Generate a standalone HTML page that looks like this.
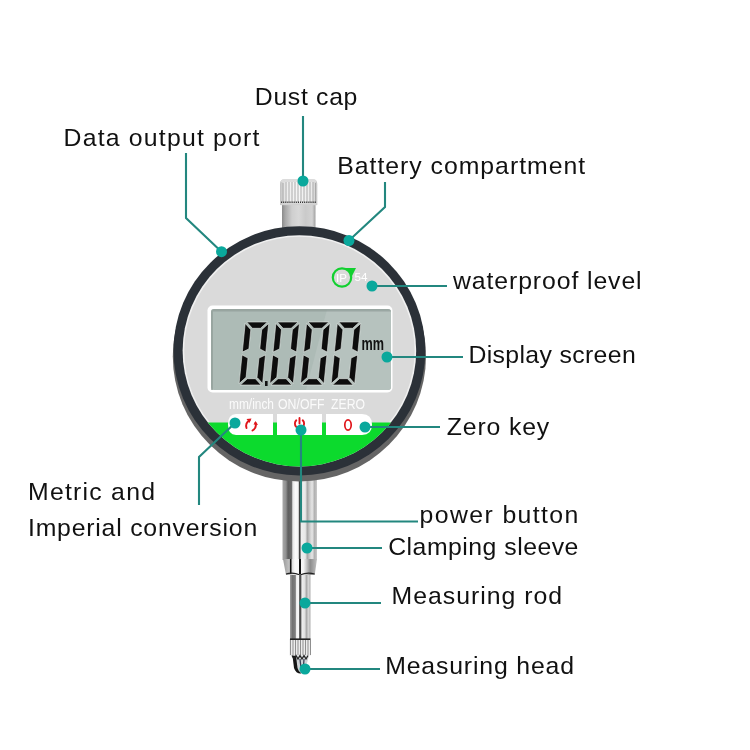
<!DOCTYPE html>
<html><head><meta charset="utf-8">
<style>
html,body{margin:0;padding:0;background:#fff;}
body{width:750px;height:750px;overflow:hidden;position:relative;}
svg{position:absolute;left:0;top:0;will-change:transform;}
.t{font-family:"Liberation Sans",sans-serif;font-size:24.8px;fill:#111;}
</style></head><body>
<svg width="750" height="750" viewBox="0 0 750 750">
<defs>
  <linearGradient id="metal" x1="0" x2="1" y1="0" y2="0">
    <stop offset="0" stop-color="#9a9a9a"/>
    <stop offset="0.15" stop-color="#cfcfcf"/>
    <stop offset="0.35" stop-color="#f2f2f2"/>
    <stop offset="0.55" stop-color="#bdbdbd"/>
    <stop offset="0.75" stop-color="#e8e8e8"/>
    <stop offset="1" stop-color="#a0a0a0"/>
  </linearGradient>
  <linearGradient id="stem" x1="0" x2="1" y1="0" y2="0">
    <stop offset="0" stop-color="#8a8a8a"/>
    <stop offset="0.1" stop-color="#a8a8a8"/>
    <stop offset="0.3" stop-color="#cfcfcf"/>
    <stop offset="0.5" stop-color="#d8d8d8"/>
    <stop offset="0.7" stop-color="#cacaca"/>
    <stop offset="0.9" stop-color="#d2d2d2"/>
    <stop offset="1" stop-color="#a0a0a0"/>
  </linearGradient>
  <linearGradient id="cap" x1="0" x2="1" y1="0" y2="0">
    <stop offset="0" stop-color="#c0c0c0"/>
    <stop offset="0.15" stop-color="#ededed"/>
    <stop offset="0.5" stop-color="#f6f6f6"/>
    <stop offset="0.85" stop-color="#ebebeb"/>
    <stop offset="1" stop-color="#c4c4c4"/>
  </linearGradient>
  <linearGradient id="sleeve" x1="0" x2="1" y1="0" y2="0">
    <stop offset="0" stop-color="#a8a8a8"/>
    <stop offset="0.1" stop-color="#909090"/>
    <stop offset="0.16" stop-color="#5e5e5e"/>
    <stop offset="0.26" stop-color="#6a6a6a"/>
    <stop offset="0.3" stop-color="#e6e6e6"/>
    <stop offset="0.38" stop-color="#fbfbfb"/>
    <stop offset="0.46" stop-color="#f2f2f2"/>
    <stop offset="0.48" stop-color="#3a3a3a"/>
    <stop offset="0.51" stop-color="#4a4a4a"/>
    <stop offset="0.54" stop-color="#efefef"/>
    <stop offset="0.66" stop-color="#e8e8e8"/>
    <stop offset="0.72" stop-color="#a6a6a6"/>
    <stop offset="0.8" stop-color="#cfcfcf"/>
    <stop offset="0.86" stop-color="#e6e6e6"/>
    <stop offset="0.93" stop-color="#b0b0b0"/>
    <stop offset="1" stop-color="#cacaca"/>
  </linearGradient>
  <linearGradient id="collar" x1="0" x2="1" y1="0" y2="0">
    <stop offset="0" stop-color="#9a9a9a"/>
    <stop offset="0.2" stop-color="#c5c5c5"/>
    <stop offset="0.35" stop-color="#fafafa"/>
    <stop offset="0.6" stop-color="#f4f4f4"/>
    <stop offset="0.8" stop-color="#8d8d8d"/>
    <stop offset="1" stop-color="#c0c0c0"/>
  </linearGradient>
  <linearGradient id="rod" x1="0" x2="1" y1="0" y2="0">
    <stop offset="0" stop-color="#a0a0a0"/>
    <stop offset="0.12" stop-color="#727272"/>
    <stop offset="0.26" stop-color="#7e7e7e"/>
    <stop offset="0.32" stop-color="#f2f2f2"/>
    <stop offset="0.44" stop-color="#f8f8f8"/>
    <stop offset="0.47" stop-color="#3a3a3a"/>
    <stop offset="0.53" stop-color="#555"/>
    <stop offset="0.58" stop-color="#eeeeee"/>
    <stop offset="0.72" stop-color="#e0e0e0"/>
    <stop offset="0.8" stop-color="#a8a8a8"/>
    <stop offset="0.9" stop-color="#d4d4d4"/>
    <stop offset="1" stop-color="#b0b0b0"/>
  </linearGradient>
  <clipPath id="faceclip"><ellipse cx="299.4" cy="350.8" rx="116.8" ry="115.6"/></clipPath>
</defs>

<!-- dust cap + stem -->
<rect x="282" y="204" width="33.5" height="25" fill="url(#stem)"/>
<path d="M280 205 L280 184 Q280 179 285 179 L312 179 Q317.3 179 317.3 184 L317.3 205 Z" fill="url(#cap)"/>
<g stroke="#a5a5a5" stroke-width="0.9">
  <line x1="283" y1="183" x2="283" y2="202"/><line x1="286" y1="182" x2="286" y2="202"/>
  <line x1="289" y1="182" x2="289" y2="202"/><line x1="292" y1="182" x2="292" y2="202"/>
  <line x1="295" y1="182" x2="295" y2="202"/><line x1="298" y1="182" x2="298" y2="202"/>
  <line x1="301" y1="182" x2="301" y2="202"/><line x1="304" y1="182" x2="304" y2="202"/>
  <line x1="307" y1="182" x2="307" y2="202"/><line x1="310" y1="182" x2="310" y2="202"/>
  <line x1="313" y1="182" x2="313" y2="202"/><line x1="315.5" y1="183" x2="315.5" y2="202"/>
</g>
<path d="M281 202.3 L316.5 202.3" stroke="#333" stroke-width="1.5" stroke-dasharray="1.2 0.9"/>
<rect x="280.5" y="203.2" width="36.5" height="2" fill="#d0d0d0"/>
<path d="M281 182 Q281 179 285 179 L312 179 Q316.5 179 316.5 182 Z" fill="#dcdcdc"/>

<!-- sleeve / rod / head -->
<rect x="282.5" y="476" width="34.5" height="84" fill="url(#sleeve)"/>
<path d="M283 559 L317 559 L314.7 575 L286 575 Z" fill="url(#collar)"/>
<line x1="290.7" y1="559" x2="290.7" y2="574" stroke="#111" stroke-width="1.6"/>
<line x1="300" y1="559" x2="300" y2="574" stroke="#111" stroke-width="2"/>
<path d="M286 574 Q293 572 300 575 Q307 572 314.7 574" stroke="#222" stroke-width="1.2" fill="none"/>
<rect x="290" y="575" width="20.5" height="64" fill="url(#rod)"/>
<rect x="289.5" y="639" width="21.5" height="16.5" fill="#ececec"/>
<g stroke="#8f8f8f" stroke-width="1">
  <line x1="290.5" y1="640" x2="290.5" y2="655"/><line x1="293" y1="640" x2="293" y2="655"/>
  <line x1="295.5" y1="640" x2="295.5" y2="655"/><line x1="298" y1="640" x2="298" y2="655"/>
  <line x1="300.5" y1="640" x2="300.5" y2="655"/><line x1="303" y1="640" x2="303" y2="655"/>
  <line x1="305.5" y1="640" x2="305.5" y2="655"/><line x1="308" y1="640" x2="308" y2="655"/>
  <line x1="310.5" y1="640" x2="310.5" y2="655"/>
</g>
<line x1="290" y1="639.2" x2="310.5" y2="639.2" stroke="#222" stroke-width="1.6"/>
<path d="M292 655.5 L309 655.5 L306 667 Q303 674 299.5 673.5 Q295.5 672 294.5 667 Z" fill="#cfd3d6"/>
<path d="M292.5 655.5 L296 656 L297.5 668 Q298.5 672 301.5 673.5 Q296 674 294 668 Z" fill="#151515"/>
<path d="M292 655.5 L294 659 L296 655.5 L298 659 L300 655.5 L302 659 L304 655.5 L306 659 L308 655.5" stroke="#222" stroke-width="1.2" fill="none"/>
<path d="M300 659 L301 668 M304 659 L303.5 666" stroke="#3a3f55" stroke-width="1.3"/>

<!-- case -->
<ellipse cx="299.4" cy="356.3" rx="126.6" ry="125.2" fill="#656565"/>
<ellipse cx="299.4" cy="350.8" rx="125.9" ry="124.6" fill="#2b3138"/>
<ellipse cx="299.4" cy="350.8" rx="116.8" ry="115.6" fill="#f0f0f0"/>
<ellipse cx="299.4" cy="350.8" rx="115.2" ry="114" fill="#dadada"/>
<g clip-path="url(#faceclip)">
  <rect x="170" y="422.5" width="260" height="120" fill="#0cda2d"/>
</g>
<!-- buttons -->
<path d="M236 414 L273 414 L273 435 L236 435 Q228 435 228 424.5 Q228 414 236 414 Z" fill="#fff"/>
<rect x="277" y="414" width="45" height="21" fill="#fff"/>
<path d="M326 414 L362 414 Q372 414 372 424.5 Q372 435 362 435 L326 435 Z" fill="#fff"/>
<!-- LCD -->
<rect x="207.5" y="305.5" width="185" height="87" rx="5" fill="#fff"/>
<rect x="211" y="309" width="180" height="81" rx="3" fill="#adbbb6"/>
<path d="M327 309.5 L388 309.5 Q391 309.5 391 313 L391 387 Q391 390 388 390 L306 390 Z" fill="#b6c2be"/>
<path d="M211 390 L211 312 Q211 309 214 309 L388 309 Q391 309 391 312 L391 311.5 L213 311.5 L213 390 Z" fill="#8e9b97" opacity="0.7"/>

<!-- LCD digits -->
<g fill="#0d0d0d" stroke="#e8ece9" stroke-width="0.6" stroke-linejoin="round">
<polygon points="246.7,322.0 267.4,322.0 260.5,328.3 252.4,328.3"/>
<polygon points="247.3,378.7 255.4,378.7 261.1,385.0 240.4,385.0"/>
<polygon points="245.2,323.4 250.8,329.7 248.9,348.9 242.3,352.1"/>
<polygon points="242.0,354.9 248.0,358.1 246.1,377.3 239.1,383.6"/>
<polygon points="268.7,323.4 265.8,352.1 259.8,348.9 261.7,329.7"/>
<polygon points="265.5,354.9 262.6,383.6 257.0,377.3 258.9,358.1"/>
<polygon points="277.4,322.0 298.1,322.0 291.2,328.3 283.1,328.3"/>
<polygon points="278.0,378.7 286.1,378.7 291.8,385.0 271.1,385.0"/>
<polygon points="275.9,323.4 281.5,329.7 279.6,348.9 273.0,352.1"/>
<polygon points="272.7,354.9 278.7,358.1 276.8,377.3 269.8,383.6"/>
<polygon points="299.4,323.4 296.5,352.1 290.5,348.9 292.4,329.7"/>
<polygon points="296.2,354.9 293.3,383.6 287.7,377.3 289.6,358.1"/>
<polygon points="308.1,322.0 328.8,322.0 321.9,328.3 313.8,328.3"/>
<polygon points="308.7,378.7 316.8,378.7 322.5,385.0 301.8,385.0"/>
<polygon points="306.6,323.4 312.2,329.7 310.3,348.9 303.7,352.1"/>
<polygon points="303.4,354.9 309.4,358.1 307.5,377.3 300.5,383.6"/>
<polygon points="330.1,323.4 327.2,352.1 321.2,348.9 323.1,329.7"/>
<polygon points="326.9,354.9 324.0,383.6 318.4,377.3 320.3,358.1"/>
<polygon points="338.8,322.0 359.5,322.0 352.6,328.3 344.5,328.3"/>
<polygon points="339.4,378.7 347.5,378.7 353.2,385.0 332.5,385.0"/>
<polygon points="337.3,323.4 342.9,329.7 341.0,348.9 334.4,352.1"/>
<polygon points="334.1,354.9 340.1,358.1 338.2,377.3 331.2,383.6"/>
<polygon points="360.8,323.4 357.9,352.1 351.9,348.9 353.8,329.7"/>
<polygon points="357.6,354.9 354.7,383.6 349.1,377.3 351.0,358.1"/>
</g>
<rect x="265" y="381" width="2.6" height="5" fill="#111"/>
<text x="361.5" y="349.5" font-family="Liberation Sans" font-weight="bold" font-size="19" textLength="22.5" lengthAdjust="spacingAndGlyphs" fill="#111">mm</text>

<!-- labels on face -->
<g font-family="Liberation Sans" font-size="14.5" fill="#fbfbfb">
<text x="229" y="409.3" textLength="45" lengthAdjust="spacingAndGlyphs">mm/inch</text>
<text x="278" y="409.3" textLength="46.5" lengthAdjust="spacingAndGlyphs">ON/OFF</text>
<text x="331" y="409.3" textLength="34" lengthAdjust="spacingAndGlyphs">ZERO</text>
</g>
<!-- button icons -->
<g fill="none" stroke="#e0161b" stroke-width="1.9" stroke-linecap="round">
  <path d="M249.5 420.5 Q245 423 246.5 428"/>
  <path d="M252.5 430.5 Q257 428 255.5 423"/>
  <path d="M296.3 420.3 A4.6 4.6 0 1 0 302.7 420.3"/>
  <line x1="299.5" y1="418" x2="299.5" y2="423.5"/>
  <ellipse cx="348" cy="425" rx="3.2" ry="5.1" stroke-width="1.7"/>
</g>
<g fill="#e0161b">
  <path d="M246.5 419 L251.5 418.5 L249.5 423 Z"/>
  <path d="M255.5 421 L258 425 L253.5 424.5 Z"/>
</g>

<!-- IP54 -->
<path d="M342 268 L356 268 L352 276 Z" fill="#12d030"/>
<circle cx="342" cy="277.5" r="9.2" fill="#dadada" stroke="#12d030" stroke-width="2.2"/>
<text x="336" y="282" font-family="Liberation Sans" font-size="11" fill="#fff" textLength="11" lengthAdjust="spacingAndGlyphs">IP</text>
<text x="354.5" y="281" font-family="Liberation Sans" font-size="11" fill="#fff" textLength="13" lengthAdjust="spacingAndGlyphs">54</text>

<!-- callouts -->
<g stroke="#23877f" stroke-width="2.1" fill="none">
  <polyline points="303,116 303,181"/>
  <polyline points="186,153 186,218 221.5,251.7"/>
  <polyline points="385,182 385,207 349,240.5"/>
  <polyline points="372,286 447,286"/>
  <polyline points="387,357 463,357"/>
  <polyline points="365,427 440,427"/>
  <polyline points="235,423 199,457 199,505"/>
  <polyline points="301,430 301,521.5 418,521.5"/>
  <polyline points="307,548 382,548"/>
  <polyline points="305,603 381,603"/>
  <polyline points="305,669 380,669"/>
</g>
<g fill="#0aa89c">
  <circle cx="303" cy="181" r="5.5"/>
  <circle cx="221.5" cy="251.7" r="5.5"/>
  <circle cx="349" cy="240.5" r="5.5"/>
  <circle cx="372" cy="286" r="5.5"/>
  <circle cx="387" cy="357" r="5.5"/>
  <circle cx="365" cy="427" r="5.5"/>
  <circle cx="235" cy="423" r="5.5"/>
  <circle cx="301" cy="430" r="5.5"/>
  <circle cx="307" cy="548" r="5.5"/>
  <circle cx="305" cy="603" r="5.5"/>
  <circle cx="305" cy="669" r="5.5"/>
</g>

<!-- text labels -->
<text class="t" x="254.8" y="104.8" textLength="102.6" lengthAdjust="spacing">Dust cap</text>
<text class="t" x="63.6" y="145.5" textLength="195.8" lengthAdjust="spacing">Data output port</text>
<text class="t" x="337.2" y="173.8" textLength="247.9" lengthAdjust="spacing">Battery compartment</text>
<text class="t" x="453.0" y="288.8" textLength="188.6" lengthAdjust="spacing">waterproof level</text>
<text class="t" x="468.4" y="363.4" textLength="167.3" lengthAdjust="spacing">Display screen</text>
<text class="t" x="446.8" y="434.8" textLength="102.4" lengthAdjust="spacing">Zero key</text>
<text class="t" x="28.0" y="500.0" textLength="127.0" lengthAdjust="spacing">Metric and</text>
<text class="t" x="28.0" y="536.0" textLength="229.2" lengthAdjust="spacing">Imperial conversion</text>
<text class="t" x="419.6" y="523.0" textLength="158.7" lengthAdjust="spacing">power button</text>
<text class="t" x="388.2" y="554.6" textLength="190.2" lengthAdjust="spacing">Clamping sleeve</text>
<text class="t" x="391.6" y="604.4" textLength="170.5" lengthAdjust="spacing">Measuring rod</text>
<text class="t" x="385.2" y="674.4" textLength="188.8" lengthAdjust="spacing">Measuring head</text>
</svg>
</body></html>
